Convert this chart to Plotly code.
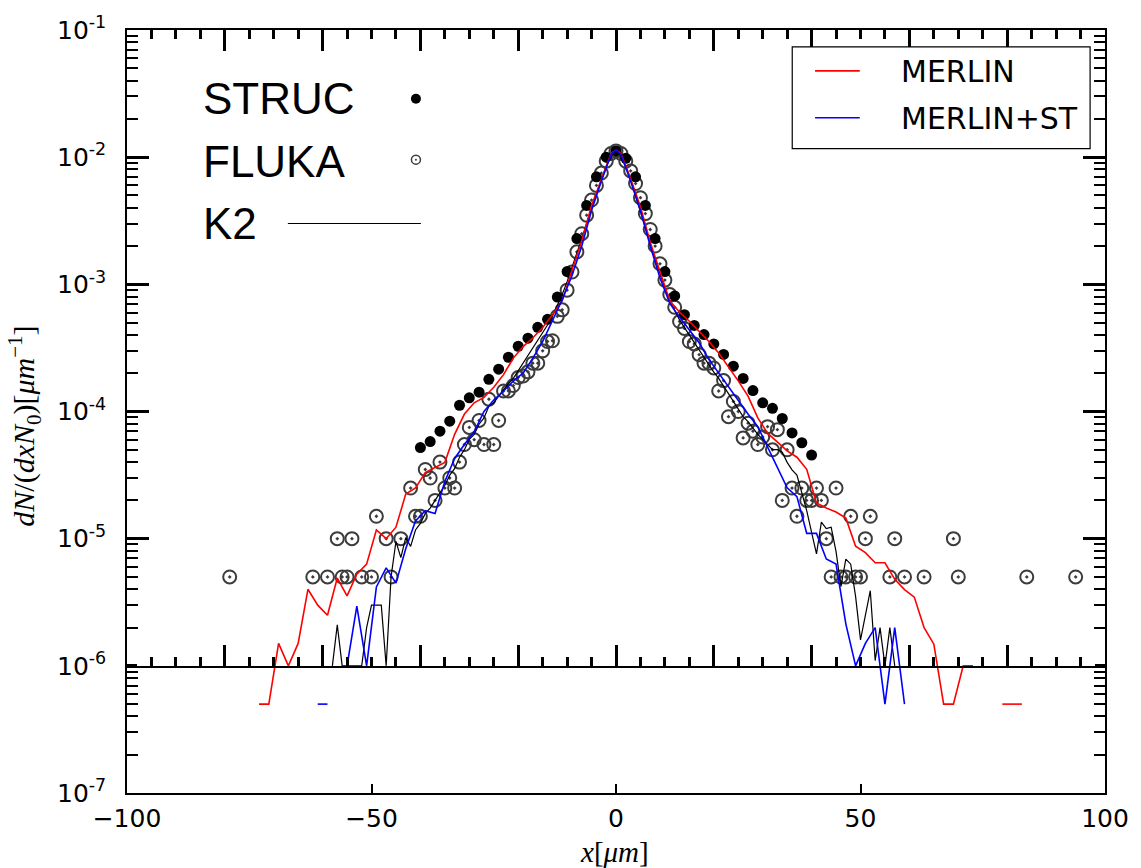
import plotly.graph_objects as go

# ---- data -------------------------------------------------------------
# STRUC (2 um bins)
struc_x = list(range(-40, 42, 2))
struc_y = [5.2e-5, 5.8e-5, 7.0e-5, 8.4e-5, 1.12e-4, 1.28e-4, 1.42e-4, 1.79e-4,
           2.15e-4, 2.67e-4, 3.26e-4, 3.77e-4, 4.59e-4, 5.31e-4, 7.94e-4, 1.26e-3,
           2.29e-3, 4.17e-3, 7.0e-3, 1.0e-2, 1.12e-2, 9.8e-3, 7.0e-3, 4.17e-3,
           2.29e-3, 1.26e-3, 8.1e-4, 5.77e-4, 4.75e-4, 4.03e-4, 3.40e-4, 2.81e-4,
           2.27e-4, 1.82e-4, 1.46e-4, 1.17e-4, 1.06e-4, 8.81e-5, 6.79e-5, 5.68e-5,
           4.54e-5]

# FLUKA (1 um bins, empty bins omitted)
fluka_x = [-79, -62, -59, -57, -56, -55, -54, -52, -50, -49, -47, -46, -44,
           -42, -41, -40, -39, -38, -37, -36, -35, -34, -33, -32, -31, -30,
           -29, -28, -27, -26, -25, -24, -23, -22, -21, -20, -19, -18, -17,
           -16, -15, -14, -13, -12, -11, -10, -9, -8, -7, -6, -5, -4, -3, -2,
           -1, 0, 1, 2, 3, 4, 5, 6, 7, 8, 9, 10, 11, 12, 13, 14, 15, 16, 17,
           18, 19, 20, 21, 22, 23, 24, 25, 26, 27, 28, 29, 30, 31, 32, 33, 34,
           35, 36, 37, 38, 39, 40, 41, 42, 43, 44, 45, 46, 47, 48, 49, 50, 51,
           52, 56, 57, 59, 63, 69, 70, 84, 94]
fluka_y = [5e-6, 5e-6, 5e-6, 1e-5, 5e-6, 5e-6, 1e-5, 5e-6, 5e-6, 1.5e-5, 1e-5,
           5e-6, 1e-5, 2.5e-5, 1.5e-5, 1.5e-5, 3.5e-5, 3.0e-5, 2.0e-5, 4.0e-5,
           2.5e-5, 3.0e-5, 2.5e-5, 4.0e-5, 5.5e-5, 7.5e-5, 6.0e-5, 8.5e-5,
           5.5e-5, 1.25e-4, 5.5e-5, 8.5e-5, 1.45e-4, 1.45e-4, 1.6e-4, 1.85e-4,
           1.9e-4, 2.05e-4, 2.4e-4, 2.4e-4, 3.0e-4, 3.55e-4, 3.6e-4, 5.6e-4,
           6.3e-4, 9.0e-4, 1.25e-3, 1.8e-3, 2.5e-3, 3.5e-3, 4.6e-3, 6.0e-3,
           7.5e-3, 9.3e-3, 1.07e-2, 1.12e-2, 1.07e-2, 9.3e-3, 7.8e-3, 6.2e-3,
           4.8e-3, 3.6e-3, 2.7e-3, 2.0e-3, 1.45e-3, 1.08e-3, 8.3e-4, 6.6e-4,
           5.1e-4, 4.5e-4, 3.55e-4, 3.4e-4, 2.8e-4, 2.4e-4, 2.4e-4, 2.2e-4,
           1.45e-4, 1.75e-4, 9.1e-5, 1.2e-4, 1.0e-4, 6.2e-5, 8.1e-5, 7.0e-5,
           5.5e-5, 6.3e-5, 7.6e-5, 5.0e-5, 7.2e-5, 2.0e-5, 5.0e-5, 2.5e-5,
           1.5e-5, 2.5e-5, 2.0e-5, 2.0e-5, 2.5e-5, 2.0e-5, 1.0e-5, 5e-6, 2.5e-5,
           5e-6, 5e-6, 1.5e-5, 5e-6, 5e-6, 1e-5, 1.5e-5, 5e-6, 1e-5, 5e-6, 5e-6,
           1e-5, 5e-6, 5e-6, 5e-6]

# K2 (1 um bins)
k2_x = list(range(-58, 58))
k2_y = [1.0e-6, 2.1e-6, 1.0e-6, 1.0e-6, 1.0e-6, 1.0e-6, 1.0e-6, 2.0e-6,
        3.0e-6, 3.0e-6, 3.0e-6, 1.0e-6, 5.0e-6, 9.5e-6, 7.1e-6, 1.02e-5,
        8.7e-6, 1.17e-5, 1.32e-5, 1.58e-5, 1.74e-5, 2.0e-5, 2.29e-5, 2.63e-5,
        3.16e-5, 3.55e-5, 4.37e-5, 5.01e-5, 6.03e-5, 6.61e-5, 7.94e-5, 8.91e-5,
        1.10e-4, 1.17e-4, 1.32e-4, 1.48e-4, 1.66e-4, 1.82e-4, 2.09e-4, 2.40e-4,
        2.69e-4, 3.09e-4, 3.55e-4, 4.17e-4, 4.79e-4, 5.62e-4, 6.76e-4, 8.32e-4,
        1.05e-3, 1.35e-3, 1.74e-3, 2.29e-3, 3.02e-3, 3.98e-3, 5.13e-3, 6.61e-3,
        8.51e-3, 1.02e-2, 1.12e-2, 1.02e-2, 8.51e-3, 6.61e-3, 5.01e-3, 3.80e-3,
        2.82e-3, 2.09e-3, 1.58e-3, 1.20e-3, 9.33e-4, 7.41e-4, 6.17e-4, 5.25e-4,
        4.57e-4, 3.98e-4, 3.47e-4, 3.02e-4, 2.63e-4, 2.34e-4, 2.04e-4, 1.82e-4,
        1.58e-4, 1.38e-4, 1.20e-4, 1.05e-4, 9.12e-5, 8.32e-5, 7.41e-5, 6.61e-5,
        6.03e-5, 5.50e-5, 5.01e-5, 5.01e-5, 4.79e-5, 3.98e-5, 3.47e-5, 3.16e-5,
        2.29e-5, 1.66e-5, 1.12e-5, 7.6e-6, 1.35e-5, 1.2e-5, 1.23e-5, 7.9e-6,
        4.2e-6, 6.9e-6, 6.3e-6, 3.5e-6, 1.6e-6, 2.5e-6, 3.9e-6, 1.1e-6, 2.0e-6,
        1.0e-6, 2.0e-6, 1.0e-6]

# MERLIN (2 um bins, None = empty bin)
merlin_x = [-73, -71, -69, -67, -65, -63, -61, -59, -57, -55, -53, -51, -49,
            -47, -45, -43, -41, -39, -37, -35, -33, -31, -29, -27, -25, -23,
            -21, -19, -17, -15, -13, -11, -9, -7, -5, -3, -1, 0, 1, 3, 5, 7,
            9, 11, 13, 15, 17, 19, 21, 23, 25, 27, 29, 31, 33, 35, 37, 39, 41,
            43, 45, 47, 49, 51, 53, 55, 57, 59, 61, 63, 65, 67, 69, 71, 73, 75,
            77, 79, 81, 83]
merlin_y = [5e-7, 5e-7, 1.5e-6, 1.0e-6, 1.5e-6, 4.0e-6, 3.0e-6, 2.5e-6, 4.9e-6,
            3.55e-6, 5.25e-6, 6.3e-6, 1.17e-5, 1.0e-5, 1.23e-5, 2.24e-5,
            2.51e-5, 3.31e-5, 3.63e-5, 3.98e-5, 6.61e-5, 9.55e-5, 1.17e-4,
            1.29e-4, 1.55e-4, 1.95e-4, 2.63e-4, 3.24e-4, 3.80e-4, 4.57e-4,
            5.75e-4, 7.41e-4, 1.29e-3, 2.19e-3, 4.17e-3, 6.76e-3, 1.07e-2,
            1.14e-2, 1.07e-2, 6.76e-3, 4.07e-3, 2.14e-3, 1.26e-3, 7.41e-4,
            6.03e-4, 5.13e-4, 4.27e-4, 3.55e-4, 2.88e-4, 2.24e-4, 1.74e-4,
            1.32e-4, 8.91e-5, 6.76e-5, 5.75e-5, 4.90e-5, 4.37e-5, 3.51e-5,
            1.91e-5, 1.74e-5, 1.62e-5, 1.45e-5, 8.71e-6, 7.76e-6, 6.46e-6,
            6.46e-6, 4.79e-6, 3.98e-6, 3.47e-6, 2.0e-6, 1.48e-6, 5e-7, 5e-7,
            1.0e-6, 1.0e-6, None, None, 5e-7, 5e-7, 5e-7]

# MERLIN+ST (2 um bins, None = empty bin)
merlin_st_x = [-61, -59, -57, -55, -53, -51, -49, -47, -45, -43, -41, -39, -37,
               -35, -33, -31, -29, -27, -25, -23, -21, -19, -17, -15, -13, -11,
               -9, -7, -5, -3, -1, 0, 1, 3, 5, 7, 9, 11, 13, 15, 17, 19, 21, 23,
               25, 27, 29, 31, 33, 35, 37, 39, 41, 43, 45, 47, 49, 51, 53, 55,
               57, 59]
merlin_st_y = [5e-7, 5e-7, None, 1.0e-6, 2.95e-6, 1.0e-6, 4.17e-6, 5.89e-6,
               4.47e-6, 8.32e-6, 1.38e-5, 1.66e-5, 1.58e-5, 2.82e-5, 4.27e-5,
               5.50e-5, 6.92e-5, 1.0e-4, 1.23e-4, 1.45e-4, 1.74e-4, 2.0e-4,
               2.63e-4, 3.55e-4, 5.13e-4, 7.59e-4, 1.17e-3, 2.0e-3, 3.80e-3,
               6.46e-3, 1.05e-2, 1.14e-2, 1.05e-2, 6.46e-3, 3.80e-3, 2.0e-3,
               1.12e-3, 7.08e-4, 5.50e-4, 4.37e-4, 3.47e-4, 2.57e-4, 2.0e-4,
               1.55e-4, 1.20e-4, 9.55e-5, 7.59e-5, 5.25e-5, 3.55e-5, 2.51e-5,
               2.14e-5, 1.10e-5, 1.10e-5, 6.92e-6, 6.31e-6, 2.14e-6, 1.0e-6,
               1.5e-6, 2.0e-6, 5e-7, 2.0e-6, 5e-7]

# axis ticks
x_tick_vals = [-100, -50, 0, 50, 100]
x_tick_text = ["\u2212100", "\u221250", "0", "50", "100"]
y_exponents = [-7, -6, -5, -4, -3, -2, -1]
y_tick_vals = [10.0 ** e for e in y_exponents]
y_tick_text = ["10<sup>%d</sup>" % e for e in y_exponents]
y_minor_vals = [k * 10.0 ** e for e in range(-7, -1) for k in range(2, 10)]

# ---- figure geometry (pixels) ------------------------------------------
W, H = 1141, 868
PL, PR, PT, PB = 127, 1112, 28, 793


def fx(xp):
    return (xp - PL) / (PR - PL)


def fy(yp):
    return (PB - yp) / (PB - PT)


fig = go.Figure()

fig.add_trace(go.Scatter(
    x=fluka_x, y=fluka_y, mode="markers", name="FLUKA",
    marker=dict(symbol="circle-open-dot", size=13, color="#3c3c3c",
                line=dict(width=2, color="#3c3c3c"))))
fig.add_trace(go.Scatter(
    x=struc_x, y=struc_y, mode="markers", name="STRUC",
    marker=dict(symbol="circle", size=11, color="black")))
fig.add_trace(go.Scatter(
    x=k2_x, y=k2_y, mode="lines", name="K2",
    line=dict(color="black", width=1.2)))
fig.add_trace(go.Scatter(
    x=merlin_x, y=merlin_y, mode="lines", name="MERLIN",
    line=dict(color="#ff0000", width=1.6), connectgaps=False))
fig.add_trace(go.Scatter(
    x=merlin_st_x, y=merlin_st_y, mode="lines", name="MERLIN+ST",
    line=dict(color="#0000ff", width=1.6), connectgaps=False))
# empty trace that carries the upper frame (1e-6 .. 1e-1)
fig.add_trace(go.Scatter(x=[], y=[], xaxis="x2", yaxis="y2",
                         hoverinfo="skip", showlegend=False))

tick_font = dict(family="DejaVu Sans", size=25, color="black")

fig.update_layout(
    width=W, height=H,
    margin=dict(l=PL, r=W - PR, t=PT, b=H - PB),
    paper_bgcolor="white", plot_bgcolor="rgba(0,0,0,0)",
    showlegend=False,
    xaxis=dict(
        range=[-100, 100], anchor="y", domain=[0, 1],
        tickmode="array", tickvals=x_tick_vals, ticktext=x_tick_text,
        ticks="inside", ticklen=9, tickwidth=2, tickcolor="black",
        showline=True, linewidth=1.5, linecolor="black", mirror=True,
        showgrid=False, zeroline=False, tickfont=tick_font,
        ticklabelstandoff=2),
    yaxis=dict(
        type="log", range=[-7, -1], anchor="x", domain=[0, 1],
        tickmode="array", tickvals=y_tick_vals, ticktext=y_tick_text,
        ticks="inside", ticklen=10, tickwidth=2.5, tickcolor="black",
        minor=dict(tickmode="array", tickvals=y_minor_vals, ticks="inside",
                   ticklen=11, tickwidth=2, tickcolor="black"),
        showline=True, linewidth=1.5, linecolor="black", mirror="ticks",
        showgrid=False, zeroline=False, tickfont=tick_font,
        ticklabelstandoff=14),
    xaxis2=dict(
        range=[-100, 100], anchor="y2", domain=[0, 1],
        tickmode="linear", tick0=0, dtick=20,
        ticks="inside", ticklen=21, tickwidth=2.5, tickcolor="black",
        minor=dict(tickmode="linear", tick0=0, dtick=5, ticks="inside",
                   ticklen=9, tickwidth=2.5, tickcolor="black"),
        showline=True, linewidth=1.8, linecolor="black", mirror="ticks",
        showticklabels=False, showgrid=False, zeroline=False),
    yaxis2=dict(
        type="log", range=[-6, -1], anchor="x2", domain=[1 / 6, 1],
        tickmode="array", tickvals=[1e-5, 1e-4, 1e-3, 1e-2],
        ticks="inside", ticklen=22, tickwidth=2.5, tickcolor="black",
        showline=False, mirror="ticks",
        showticklabels=False, showgrid=False, zeroline=False),
)

shapes = []
annotations = []

# key for the simulation curves (upper right box)
shapes.append(dict(type="rect", xref="paper", yref="paper",
                   x0=fx(797), x1=fx(1097), y0=fy(147), y1=fy(45),
                   line=dict(color="black", width=1.2), fillcolor="white",
                   layer="above"))
for yp, col, label in [(69, "#ff0000", "MERLIN"), (116, "#0000ff", "MERLIN+ST")]:
    shapes.append(dict(type="line", xref="paper", yref="paper",
                       x0=fx(820), x1=fx(865), y0=fy(yp), y1=fy(yp),
                       line=dict(color=col, width=1.6), layer="above"))
    annotations.append(dict(xref="paper", yref="paper", x=fx(905), y=fy(yp + 1),
                            xanchor="left", yanchor="middle", showarrow=False,
                            text=label,
                            font=dict(family="DejaVu Sans", size=30,
                                      color="black")))

# key for the reference codes (upper left)
key_font = dict(family="Liberation Sans, Arial", size=44, color="black")
for yp, label in [(97, "STRUC"), (160, "FLUKA"), (222, "K2")]:
    annotations.append(dict(xref="paper", yref="paper", x=fx(202), y=fy(yp),
                            xanchor="left", yanchor="middle", showarrow=False,
                            text=label, font=key_font))
shapes.append(dict(type="circle", xref="paper", yref="paper",
                   xsizemode="pixel", ysizemode="pixel",
                   xanchor=fx(418), yanchor=fy(97), x0=-5, x1=5, y0=-5, y1=5,
                   fillcolor="black", line=dict(width=0)))
shapes.append(dict(type="circle", xref="paper", yref="paper",
                   xsizemode="pixel", ysizemode="pixel",
                   xanchor=fx(418), yanchor=fy(158), x0=-4.5, x1=4.5,
                   y0=-4.5, y1=4.5, fillcolor="rgba(0,0,0,0)",
                   line=dict(color="#3c3c3c", width=1.5)))
shapes.append(dict(type="circle", xref="paper", yref="paper",
                   xsizemode="pixel", ysizemode="pixel",
                   xanchor=fx(418), yanchor=fy(158), x0=-1, x1=1, y0=-1, y1=1,
                   fillcolor="#3c3c3c", line=dict(width=0)))
shapes.append(dict(type="line", xref="paper", yref="paper",
                   x0=fx(289), x1=fx(423), y0=fy(222), y1=fy(222),
                   line=dict(color="black", width=1.2)))

# axis titles
serif = "Liberation Serif, DejaVu Serif"
annotations.append(dict(xref="paper", yref="paper", x=fx(618), y=fy(852),
                        xanchor="center", yanchor="middle", showarrow=False,
                        text="<i>x</i>[<i>\u03bcm</i>]",
                        font=dict(family=serif, size=29, color="black")))
annotations.append(dict(xref="paper", yref="paper", x=fx(24), y=fy(425),
                        xanchor="center", yanchor="middle", showarrow=False,
                        textangle=-90,
                        text="<i>dN</i>/(<i>dxN</i><sub>0</sub>)[<i>\u03bcm</i>"
                             "<sup>\u22121</sup>]",
                        font=dict(family=serif, size=30, color="black")))

fig.update_layout(shapes=shapes, annotations=annotations)

fig.write_html("out.html")
